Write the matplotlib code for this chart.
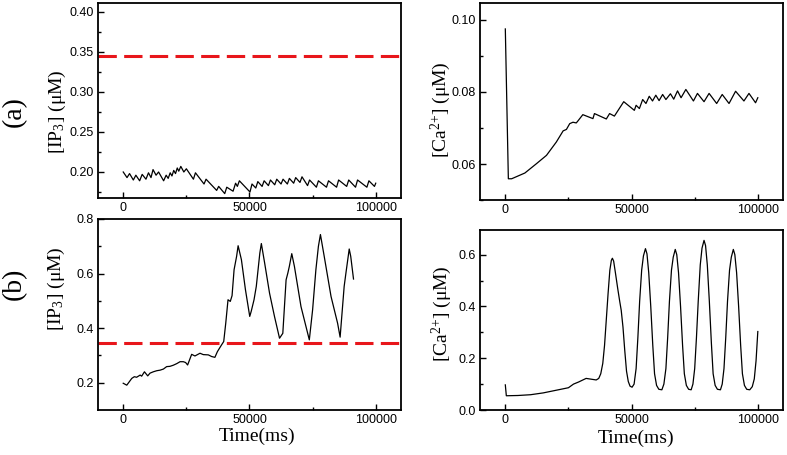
import matplotlib
matplotlib.use("Agg")
import matplotlib.pyplot as plt
from matplotlib.ticker import MultipleLocator, FixedLocator, FormatStrFormatter

# (a) IP3, below threshold
t_ip3_a = [0, 1500, 2500, 4000, 5000, 6500, 7500, 9000, 10000, 11000, 11800, 13000,
           14000, 16000, 17000, 17800, 18600, 19300, 20000, 20700, 21400, 22000,
           22800, 24000, 25000, 27800, 28600, 32000, 32800, 37000, 37800, 40200,
           41000, 43500, 44500, 45200, 46000, 50200, 51000, 52500, 53300, 55000,
           55800, 57500, 58300, 60000, 60800, 62500, 63300, 65000, 65800, 67500,
           68300, 70000, 70800, 73000, 73800, 76500, 77300, 80500, 81300, 84500,
           85300, 88500, 89300, 92000, 92800, 96500, 97300, 99500, 100000]
ip3_a = [0.200, 0.193, 0.198, 0.190, 0.196, 0.189, 0.197, 0.191, 0.199, 0.193, 0.203, 0.196,
         0.200, 0.189, 0.196, 0.192, 0.199, 0.195, 0.202, 0.198, 0.205, 0.201,
         0.207, 0.200, 0.204, 0.191, 0.199, 0.185, 0.191, 0.177, 0.182, 0.173,
         0.181, 0.176, 0.186, 0.182, 0.189, 0.175, 0.185, 0.180, 0.188, 0.182,
         0.189, 0.183, 0.190, 0.184, 0.191, 0.185, 0.191, 0.185, 0.192, 0.186,
         0.193, 0.187, 0.194, 0.183, 0.190, 0.181, 0.189, 0.181, 0.189, 0.181,
         0.190, 0.182, 0.190, 0.181, 0.190, 0.181, 0.189, 0.182, 0.186]

# (a) Ca2+
t_ca_a = [0, 1200, 2500, 7750, 12350, 16300, 20200, 22900, 24200, 25500, 26800, 28100,
          28800, 30700, 34700, 35300, 40000, 41300, 43200, 46900, 51100, 51800,
          53100, 54400, 55700, 57000, 58300, 59600, 60900, 62300, 63600, 65400,
          66700, 68200, 69600, 71500, 74500, 76100, 78700, 80700, 83700, 85900,
          88600, 91200, 94500, 96500, 99100, 100000]
ca_a = [0.0975, 0.0559, 0.0559, 0.0575, 0.0601, 0.0624, 0.0661, 0.0692, 0.0696, 0.0712, 0.0716, 0.0714,
        0.0720, 0.0737, 0.0726, 0.0740, 0.0725, 0.0740, 0.0733, 0.0773, 0.0749, 0.0763,
        0.0754, 0.0779, 0.0768, 0.0788, 0.0775, 0.0791, 0.0776, 0.0793, 0.0779, 0.0795,
        0.0780, 0.0803, 0.0784, 0.0807, 0.0775, 0.0796, 0.0773, 0.0796, 0.0768, 0.0793,
        0.0768, 0.0802, 0.0775, 0.0796, 0.0770, 0.0784]

# (b) IP3, above threshold
t_ip3_b = [0, 1400, 3400, 4400, 5300, 6700, 7300, 8400, 9700, 10600, 11900, 13300,
           14600, 15900, 17200, 18500, 19800, 21200, 22500, 23800, 24700, 25500,
           27100, 28400, 30400, 31700, 33700, 35000, 36300, 37300, 38900, 39800,
           40600, 41500, 42400, 43100, 43900, 44900, 45500, 46800, 48400, 50100,
           50700, 51800, 52700, 53400, 54100, 54700, 56000, 57950, 59900, 61900,
           63200, 64500, 65200, 65800, 66750, 67800, 70400, 73700, 75000, 76300,
           77300, 78100, 79600, 82300, 84900, 85900, 87500, 88200, 89500, 90100, 91200]
ip3_b = [0.198, 0.191, 0.216, 0.222, 0.220, 0.228, 0.224, 0.240, 0.225, 0.235, 0.240, 0.244,
         0.246, 0.250, 0.259, 0.260, 0.264, 0.270, 0.277, 0.277, 0.274, 0.265,
         0.304, 0.298, 0.308, 0.303, 0.302, 0.296, 0.293, 0.314, 0.338, 0.351,
         0.418, 0.504, 0.498, 0.519, 0.614, 0.663, 0.702, 0.651, 0.541, 0.443,
         0.462, 0.504, 0.553, 0.614, 0.675, 0.710, 0.639, 0.528, 0.443, 0.363,
         0.381, 0.577, 0.602, 0.627, 0.673, 0.626, 0.479, 0.357, 0.467, 0.614,
         0.700, 0.743, 0.663, 0.516, 0.418, 0.367, 0.553, 0.602, 0.690, 0.663, 0.580]

# (b) Ca2+
t_ca_b = [0, 400, 5000, 10000, 15000, 20000, 25000, 26000, 27000, 29000, 32000, 34000,
          36000, 37000, 37800, 38600, 39300, 40000, 40700, 41400, 42000, 42400, 42900,
          43600, 44500, 45300, 45900, 46600, 47300, 48000, 48700, 49400, 50200,
          51000, 51800, 52500, 53200, 54000, 54700, 55500, 56100, 56800, 57600,
          58400, 59100, 59900, 60800, 62000,
          62800, 63600, 64300, 65000, 65800, 66500, 67300, 67900, 68600, 69400,
          70200, 70900, 71700, 72600, 73600,
          74300, 75000, 75700, 76400, 77200, 77900, 78700, 79300, 80000, 80800,
          81600, 82300, 83100, 84000, 85200,
          85900, 86600, 87300, 88000, 88800, 89500, 90300, 90900, 91600, 92400,
          93200, 93900, 94700, 95600, 96800, 97800, 98600, 99300, 100000]
ca_b = [0.097, 0.055, 0.056, 0.059, 0.066, 0.076, 0.086, 0.093, 0.100, 0.108, 0.122, 0.119,
        0.116, 0.122, 0.140, 0.180, 0.250, 0.350, 0.450, 0.540, 0.578, 0.586, 0.575,
        0.530, 0.470, 0.420, 0.385, 0.320, 0.230, 0.150, 0.110, 0.092, 0.088,
        0.100, 0.160, 0.280, 0.420, 0.540, 0.595, 0.623, 0.603, 0.530, 0.400,
        0.250, 0.140, 0.095, 0.080, 0.078,
        0.100, 0.160, 0.280, 0.420, 0.540, 0.590, 0.620, 0.600, 0.530, 0.400,
        0.250, 0.140, 0.095, 0.080, 0.078,
        0.100, 0.160, 0.280, 0.420, 0.560, 0.625, 0.655, 0.635, 0.560, 0.420,
        0.260, 0.140, 0.095, 0.080, 0.078,
        0.100, 0.160, 0.280, 0.420, 0.540, 0.590, 0.620, 0.600, 0.530, 0.400,
        0.250, 0.140, 0.095, 0.080, 0.078, 0.090, 0.120, 0.190, 0.303]

threshold = 0.345
panel_labels = ["(a)", "(b)"]
ylabel_ip3 = '[IP$_\\mathregular{3}$] (\u03bcM)'
ylabel_ca = '[Ca$^\\mathregular{2{+}}$] (\u03bcM)'
xlabel = 'Time(ms)'

plt.rcParams['font.family'] = ['Liberation Sans', 'DejaVu Sans']
plt.rcParams['mathtext.fontset'] = 'custom'
plt.rcParams['mathtext.rm'] = 'Liberation Serif'
plt.rcParams['mathtext.it'] = 'Liberation Serif:italic'
plt.rcParams['mathtext.bf'] = 'Liberation Serif:bold'
serif = ['Liberation Serif', 'DejaVu Serif']

fig = plt.figure(figsize=(7.87, 4.55), dpi=100)
ax_tl = fig.add_axes([0.1245, 0.5648, 0.385, 0.4286])
ax_tr = fig.add_axes([0.610, 0.5604, 0.385, 0.4330])
ax_bl = fig.add_axes([0.1245, 0.0989, 0.385, 0.4198])
ax_br = fig.add_axes([0.610, 0.0989, 0.385, 0.3956])

red = '#e8161b'
ax_tl.plot(t_ip3_a, ip3_a, color='black', lw=0.9)
ax_tl.axhline(threshold, color=red, lw=2.2, dashes=(6, 2.4))
ax_tr.plot(t_ca_a, ca_a, color='black', lw=0.9)
ax_bl.plot(t_ip3_b, ip3_b, color='black', lw=0.9)
ax_bl.axhline(threshold, color=red, lw=2.2, dashes=(6, 2.4))
ax_br.plot(t_ca_b, ca_b, color='black', lw=0.9)

ax_tl.set_ylim(0.1675, 0.411)
ax_tl.yaxis.set_major_locator(MultipleLocator(0.05))
ax_tl.yaxis.set_minor_locator(MultipleLocator(0.025))
ax_tl.yaxis.set_major_formatter(FormatStrFormatter('%.2f'))

ax_tr.set_ylim(0.050, 0.1047)
ax_tr.yaxis.set_major_locator(MultipleLocator(0.02))
ax_tr.yaxis.set_minor_locator(MultipleLocator(0.01))
ax_tr.yaxis.set_major_formatter(FormatStrFormatter('%.2f'))

ax_bl.set_ylim(0.1, 0.8)
ax_bl.yaxis.set_major_locator(FixedLocator([0.2, 0.4, 0.6, 0.8]))
ax_bl.yaxis.set_minor_locator(FixedLocator([0.3, 0.5, 0.7]))
ax_bl.yaxis.set_major_formatter(FormatStrFormatter('%.1f'))

ax_br.set_ylim(0.0, 0.695)
ax_br.yaxis.set_major_locator(MultipleLocator(0.2))
ax_br.yaxis.set_minor_locator(MultipleLocator(0.1))
ax_br.yaxis.set_major_formatter(FormatStrFormatter('%.1f'))

for ax in [ax_tl, ax_tr, ax_bl, ax_br]:
    ax.set_xlim(-10000, 110000)
    ax.xaxis.set_major_locator(FixedLocator([0, 50000, 100000]))
    ax.xaxis.set_minor_locator(FixedLocator([25000, 75000]))
    ax.tick_params(which='both', direction='in', labelsize=9, width=1.0, pad=3,
                   top=False, right=False)
    ax.tick_params(which='major', length=4)
    ax.tick_params(which='minor', length=2.5)
    for s in ax.spines.values():
        s.set_linewidth(1.3)

# axis titles placed by pixel centre (x, y from top-left)
W, H = 787, 455
def ptext(x, y, s, size, rot=0):
    fig.text(x / W, 1 - y / H, s, rotation=rot, family=serif, fontsize=size,
             ha='center', va='center')

ptext(57, 112, ylabel_ip3, 14, 90)
ptext(441, 110, ylabel_ca, 14, 90)
ptext(56, 289, ylabel_ip3, 14, 90)
ptext(442, 314, ylabel_ca, 14, 90)
ptext(257, 436, xlabel, 14)
ptext(636, 438, xlabel, 14)
ptext(14, 112, panel_labels[0], 20, 90)
ptext(14, 284, panel_labels[1], 20, 90)

fig.savefig('out.png', dpi=100)
